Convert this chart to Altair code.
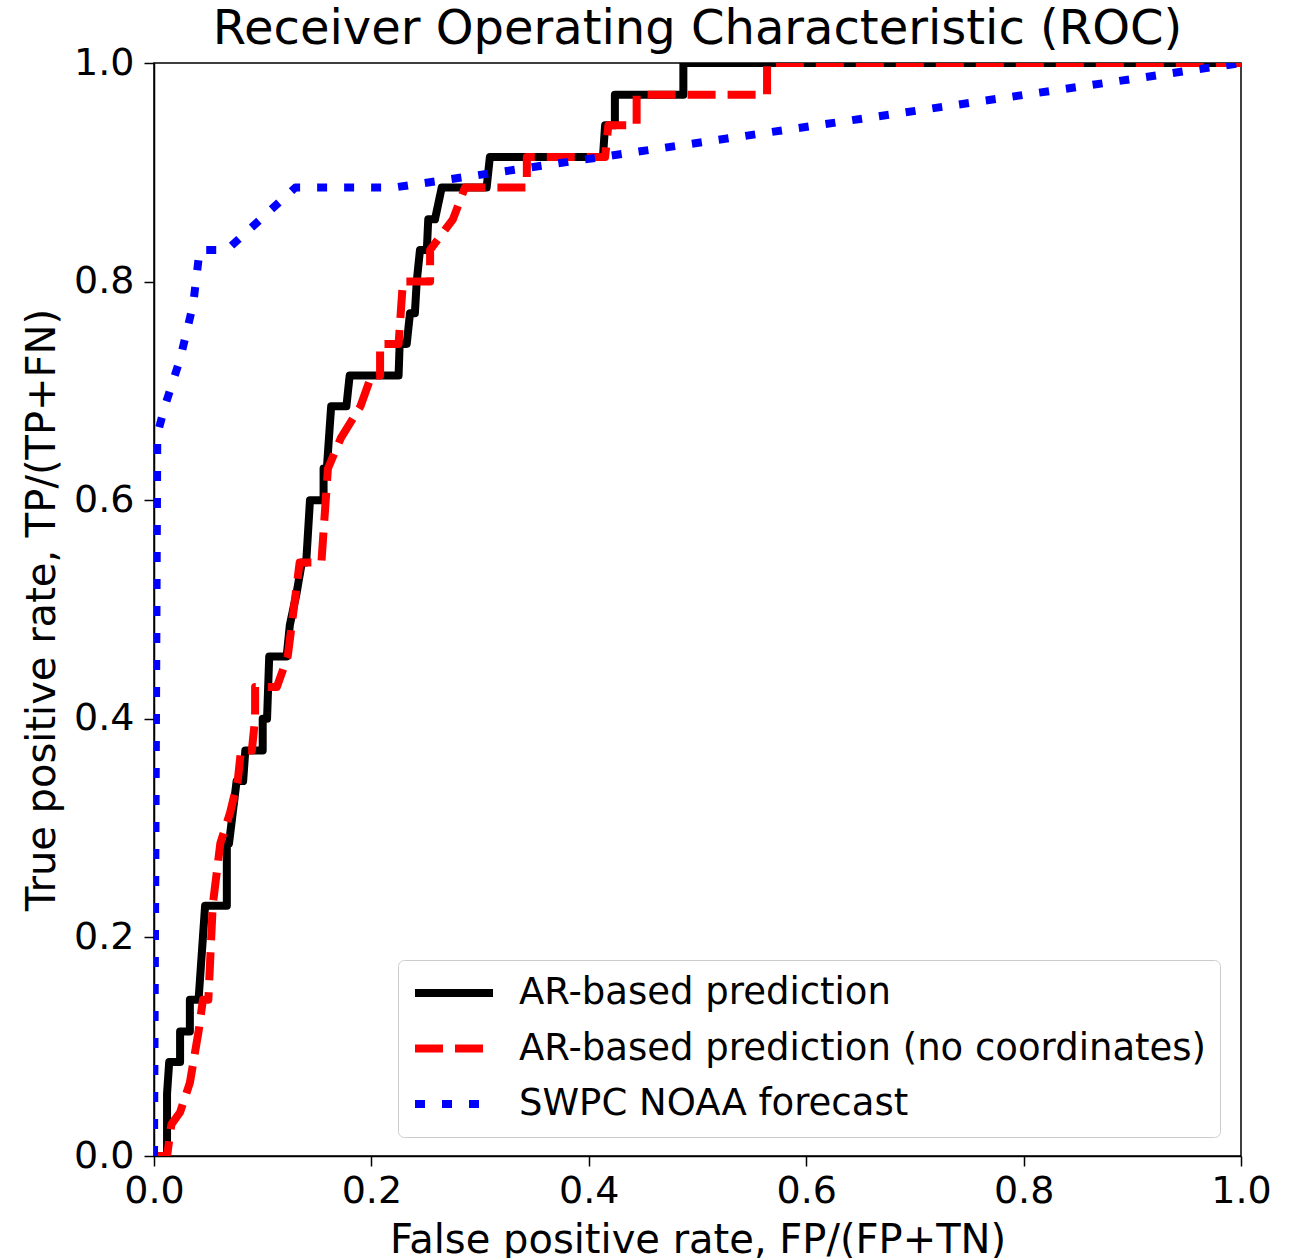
import altair as alt
import pandas as pd

series_names = ["AR-based prediction", "AR-based prediction (no coordinates)", "SWPC NOAA forecast"]
series_colors = ["#000000", "#ff0000", "#0000ff"]
series_dashes = [[1, 0], [28, 12], [10, 17]]

ar_fpr = [0.0, 0.012, 0.012, 0.014, 0.024, 0.024, 0.033, 0.033, 0.041, 0.045, 0.047, 0.067,
          0.067, 0.069, 0.076, 0.082, 0.084, 0.1, 0.1, 0.104, 0.106, 0.122, 0.125, 0.131,
          0.136, 0.14, 0.1435, 0.156, 0.156, 0.159, 0.163, 0.177, 0.18, 0.225, 0.226, 0.2325,
          0.2355, 0.24, 0.2417, 0.2447, 0.251, 0.2523, 0.2585, 0.2647, 0.306, 0.309, 0.413,
          0.415, 0.424, 0.424, 0.487, 0.487, 1.0]
ar_tpr = [0.0, 0.0, 0.057, 0.086, 0.086, 0.114, 0.114, 0.143, 0.143, 0.2, 0.229, 0.229,
          0.286, 0.286, 0.343, 0.343, 0.371, 0.371, 0.4, 0.4, 0.457, 0.457, 0.486, 0.514,
          0.543, 0.543, 0.6, 0.6, 0.629, 0.629, 0.686, 0.686, 0.714, 0.714, 0.743, 0.743,
          0.771, 0.771, 0.8, 0.829, 0.829, 0.857, 0.857, 0.886, 0.886, 0.914, 0.914,
          0.943, 0.943, 0.971, 0.971, 1.0, 1.0]

arnc_fpr = [0.0, 0.012, 0.016, 0.024, 0.033, 0.041, 0.045, 0.05, 0.054, 0.061, 0.07, 0.077,
            0.08, 0.09, 0.093, 0.093, 0.113, 0.123, 0.134, 0.154, 0.16, 0.172, 0.19, 0.2,
            0.208, 0.208, 0.225, 0.229, 0.254, 0.254, 0.275, 0.286, 0.343, 0.343, 0.415,
            0.418, 0.444, 0.444, 0.564, 0.564, 1.0]
arnc_tpr = [0.0, 0.0, 0.029, 0.04, 0.067, 0.114, 0.143, 0.143, 0.229, 0.286, 0.314, 0.343,
            0.371, 0.371, 0.4, 0.429, 0.429, 0.457, 0.543, 0.543, 0.629, 0.657, 0.686, 0.714,
            0.714, 0.743, 0.743, 0.8, 0.8, 0.829, 0.857, 0.886, 0.886, 0.914, 0.914,
            0.943, 0.943, 0.971, 0.971, 1.0, 1.0]

swpc_fpr = [0.0, 0.003, 0.01, 0.024, 0.036, 0.042, 0.067, 0.13, 0.22, 1.0]
swpc_tpr = [0.0, 0.66, 0.686, 0.729, 0.779, 0.829, 0.829, 0.886, 0.886, 1.0]

axis_ticks = [0.0, 0.2, 0.4, 0.6, 0.8, 1.0]

rows = []
for name, xs, ys in zip(series_names,
                        [ar_fpr, arnc_fpr, swpc_fpr],
                        [ar_tpr, arnc_tpr, swpc_tpr]):
    for i, (xv, yv) in enumerate(zip(xs, ys)):
        rows.append({"series": name, "fpr": xv, "tpr": yv, "idx": i})
df = pd.DataFrame(rows)

FONT = "DejaVu Sans"

legend = alt.Legend(
    title=None,
    orient="none",
    legendX=244,
    legendY=897,
    fillColor="rgba(255,255,255,0.8)",
    strokeColor="#cccccc",
    cornerRadius=6,
    padding=13,
    symbolType="stroke",
    symbolSize=6084,
    symbolStrokeWidth=8,
    labelFont=FONT,
    labelFontSize=37,
    labelColor="black",
    labelOffset=22,
    labelLimit=2000,
    clipHeight=40,
    rowPadding=15.5,
)

chart = alt.Chart(df).mark_line(
    strokeWidth=8, clip=True, strokeJoin="round", strokeCap="butt"
).encode(
    x=alt.X("fpr:Q", scale=alt.Scale(domain=[0, 1], nice=False, zero=False),
            axis=alt.Axis(values=axis_ticks, format=".1f", labelFlush=False,
                          title="False positive rate, FP/(FP+TN)",
                          titleY=96, titleBaseline="alphabetic", labelPadding=6)),
    y=alt.Y("tpr:Q", scale=alt.Scale(domain=[0, 1], nice=False, zero=False),
            axis=alt.Axis(values=axis_ticks, format=".1f", labelFlush=False,
                          title="True positive rate, TP/(TP+FN)",
                          titleX=-100, titleBaseline="alphabetic", labelPadding=10)),
    color=alt.Color("series:N", scale=alt.Scale(domain=series_names, range=series_colors),
                    legend=legend),
    strokeDash=alt.StrokeDash("series:N", scale=alt.Scale(domain=series_names, range=series_dashes),
                              legend=legend),
    order=alt.Order("idx:Q"),
).properties(
    width=1087,
    height=1093,
    title=alt.TitleParams("Receiver Operating Characteristic (ROC)", anchor="middle",
                          frame="group", font=FONT, fontSize=48, fontWeight="normal",
                          color="black", baseline="bottom", offset=0, dy=58),
    autosize=alt.AutoSizeParams(type="none"),
    padding={"left": 154, "top": 63, "right": 55, "bottom": 102},
    background="white",
).configure_view(
    stroke="black", strokeWidth=1.5
).configure_axis(
    grid=False,
    domainColor="black",
    domainWidth=1.5,
    tickColor="black",
    tickWidth=1.5,
    tickSize=10,
    labelFont=FONT,
    labelFontSize=38,
    labelColor="black",
    titleFont=FONT,
    titleFontSize=40,
    titleFontWeight="normal",
    titleColor="black",
)

chart.save("out.html", embed_options={"renderer": "svg", "actions": False})
